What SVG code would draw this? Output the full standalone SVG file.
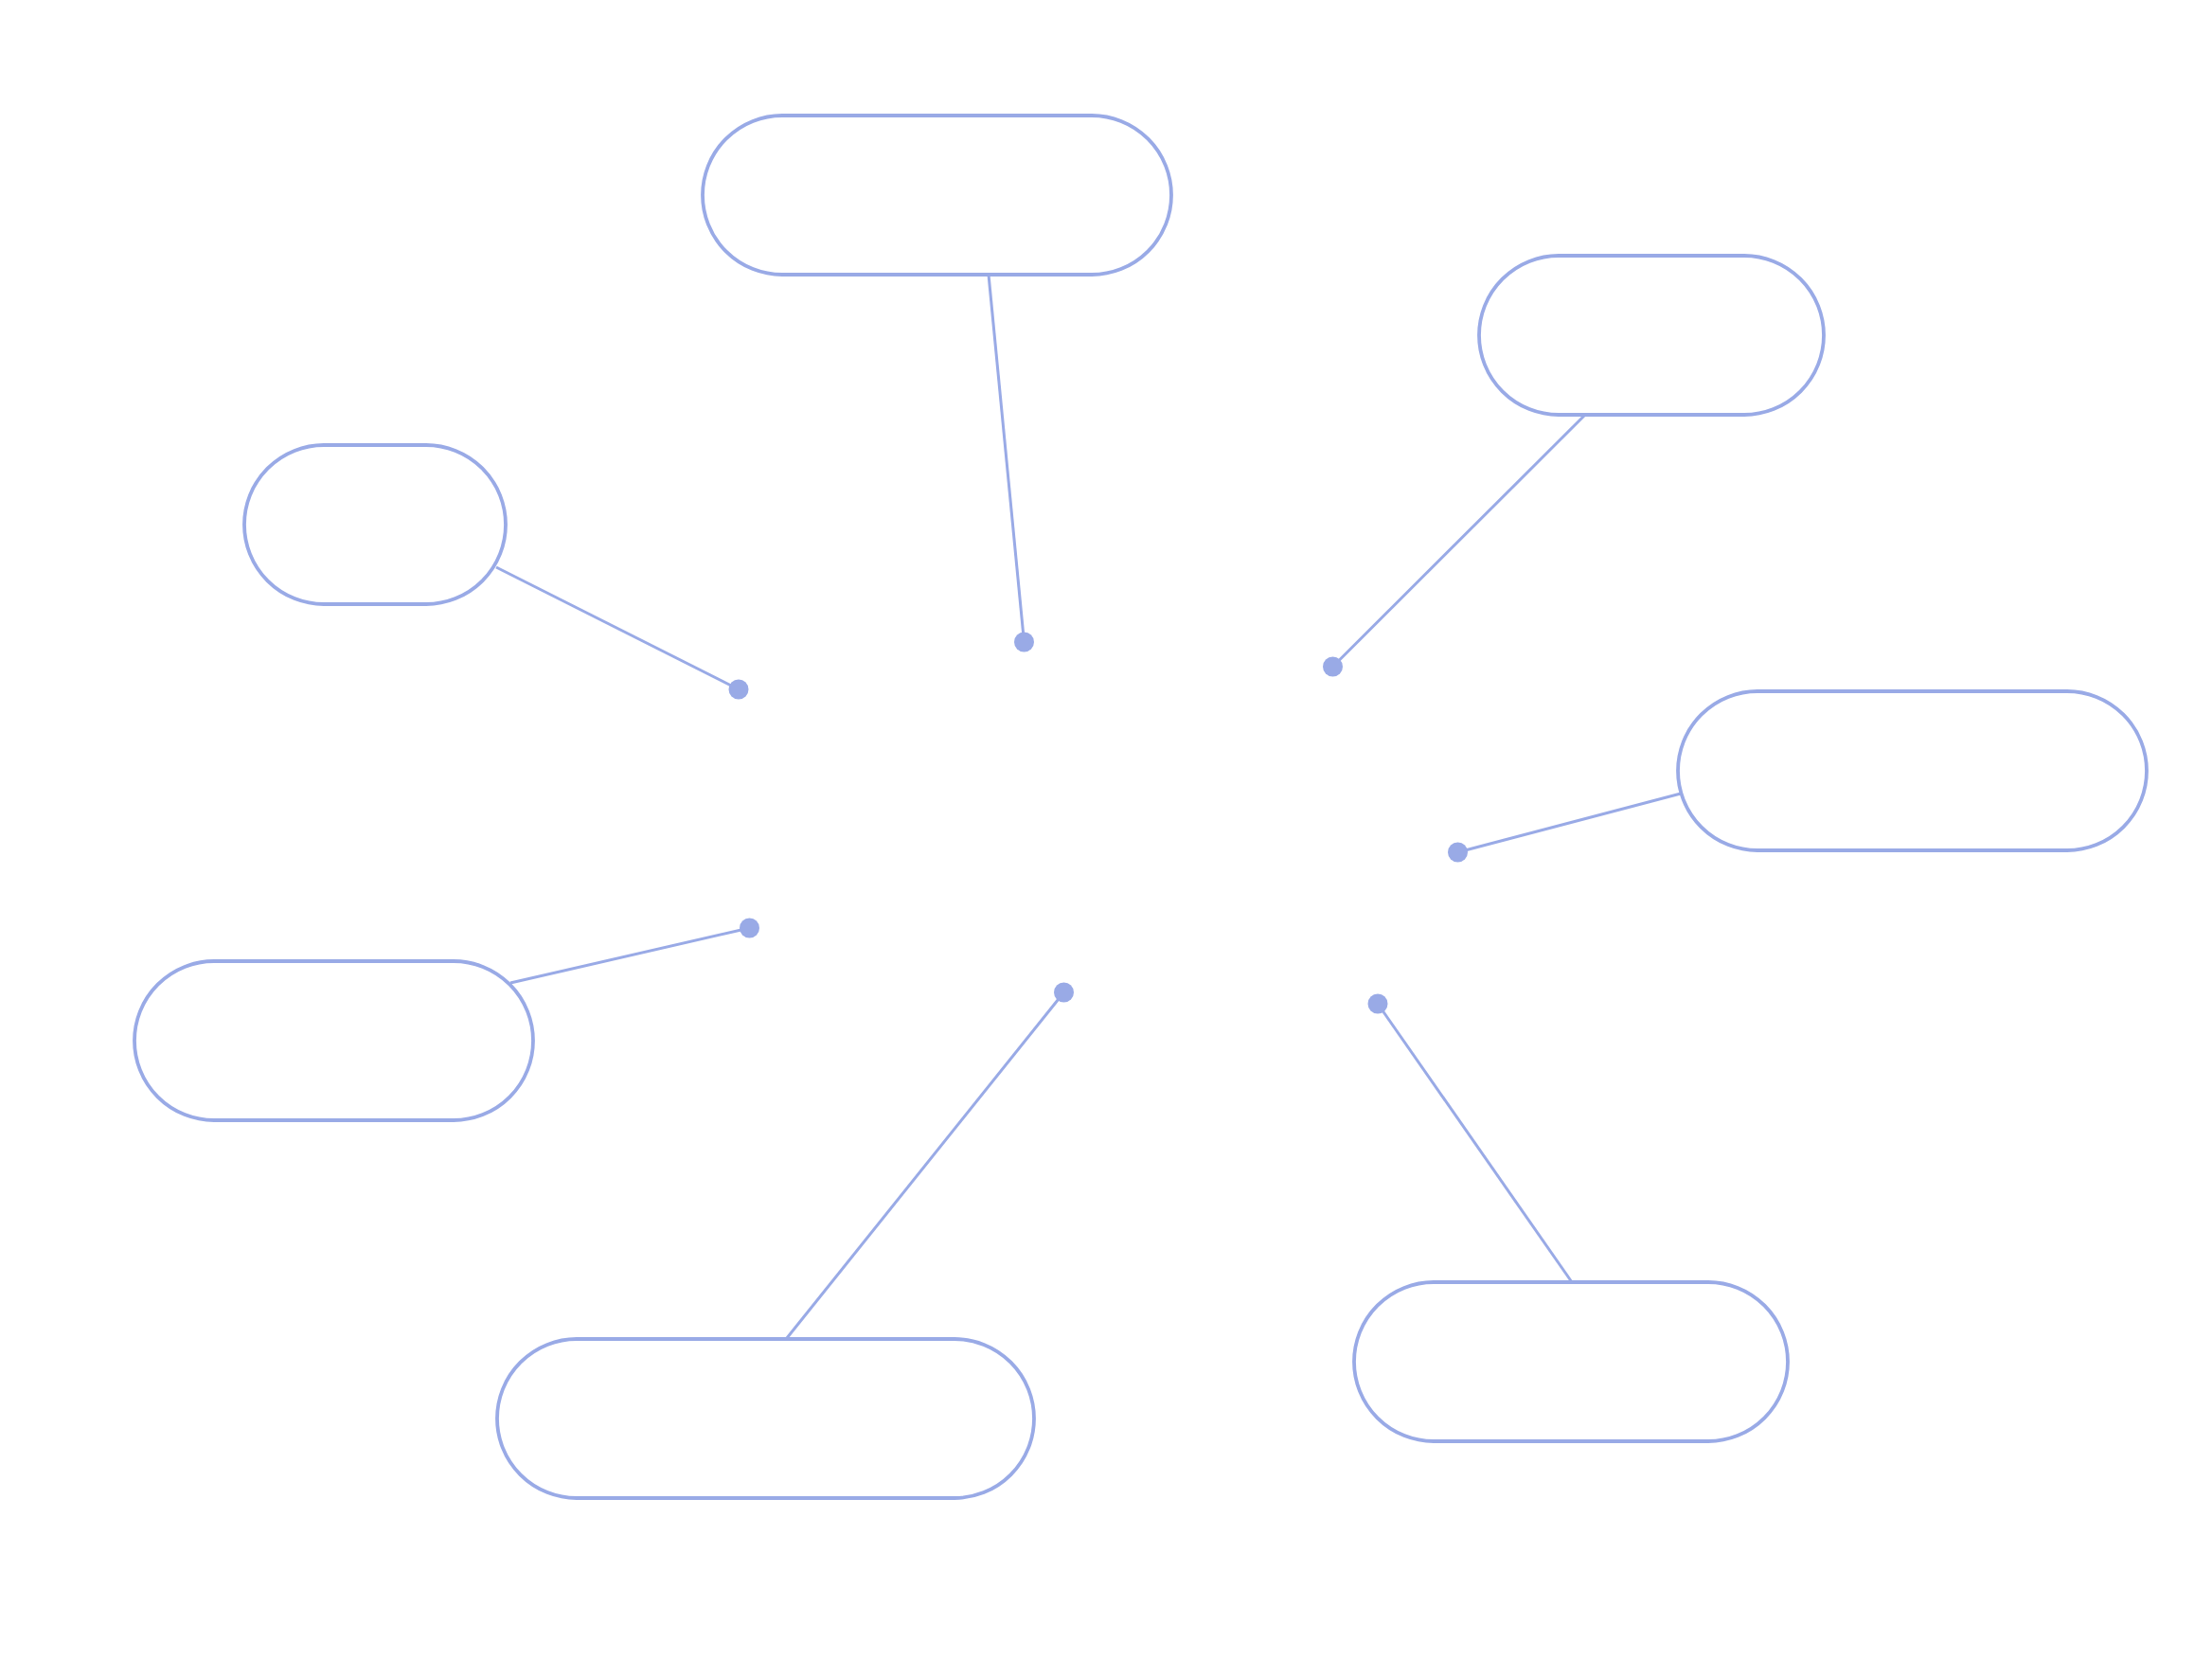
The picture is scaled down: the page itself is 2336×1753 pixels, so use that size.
<svg xmlns="http://www.w3.org/2000/svg" width="2336" height="1753" viewBox="0 0 2336 1753">
<style>
.node{fill:#ffffff;stroke:#99aae6;stroke-width:3.8}
.conn{stroke:#99aae6;stroke-width:3;fill:none}
.dot{fill:#99aae6}
</style>
<rect width="2336" height="1753" fill="#ffffff"/>
<g id="connectors">
<line class="conn" x1="1044" y1="290" x2="1081.5" y2="678"/>
<line class="conn" x1="1673" y1="439" x2="1407.5" y2="704"/>
<line class="conn" x1="524" y1="599" x2="780" y2="728"/>
<line class="conn" x1="1775" y1="838" x2="1539.5" y2="900"/>
<line class="conn" x1="539" y1="1038" x2="791.5" y2="980"/>
<line class="conn" x1="831" y1="1413" x2="1123.5" y2="1048"/>
<line class="conn" x1="1660" y1="1354" x2="1455" y2="1060"/>
<circle class="dot" cx="1081.5" cy="678" r="10.5"/>
<circle class="dot" cx="1407.5" cy="704" r="10.5"/>
<circle class="dot" cx="780" cy="728" r="10.5"/>
<circle class="dot" cx="1539.5" cy="900" r="10.5"/>
<circle class="dot" cx="791.5" cy="980" r="10.5"/>
<circle class="dot" cx="1123.5" cy="1048" r="10.5"/>
<circle class="dot" cx="1455" cy="1060" r="10.5"/>
</g>
<g id="node-top"><rect class="node" x="742" y="122" width="495" height="168" rx="84"/></g>
<g id="node-top-right"><rect class="node" x="1562" y="270" width="364" height="168" rx="84"/></g>
<g id="node-left-upper"><rect class="node" x="258" y="470" width="276" height="168" rx="84"/></g>
<g id="node-right"><rect class="node" x="1772" y="730" width="495" height="168" rx="84"/></g>
<g id="node-left-lower"><rect class="node" x="142" y="1015" width="421" height="168" rx="84"/></g>
<g id="node-bottom-left"><rect class="node" x="525" y="1414" width="567" height="168" rx="84"/></g>
<g id="node-bottom-right"><rect class="node" x="1430" y="1354" width="458" height="168" rx="84"/></g>
</svg>
